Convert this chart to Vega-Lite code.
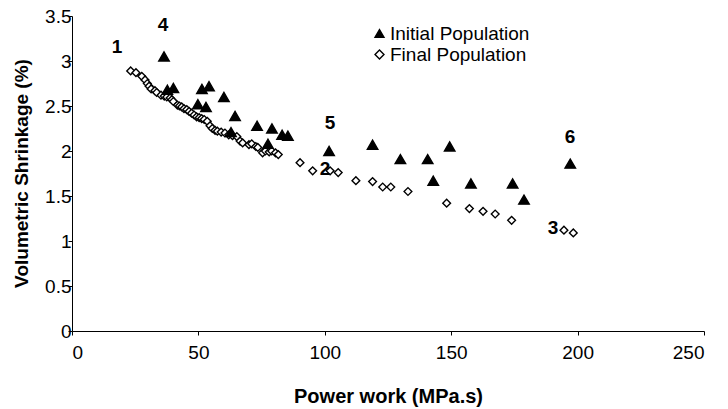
{
  "$schema": "https://vega.github.io/schema/vega-lite/v6.json",
  "width": 632,
  "height": 315,
  "autosize": {"type": "none"},
  "padding": {"left": 72, "top": 16, "right": 24, "bottom": 78},
  "background": "white",
  "config": {
    "view": {"stroke": null},
    "font": "Liberation Sans",
    "axis": {"grid": false, "domainColor": "black", "tickColor": "black", "domainWidth": 1, "tickWidth": 1, "tickSize": 4, "labelFont": "Liberation Sans", "labelFontSize": 19, "labelColor": "black", "titleFont": "Liberation Sans", "titleFontSize": 19, "titleFontWeight": "bold", "titleColor": "black"},
    "legend": {"title": null, "orient": "none", "legendX": 298, "legendY": 8, "labelFont": "Liberation Sans", "labelFontSize": 19, "labelColor": "black", "symbolStrokeWidth": 1.4, "symbolSize": 80, "labelOffset": 1, "rowPadding": 1, "padding": 0}
  },
  "datasets": {
    "pts": [
      {"work": 23.2, "shrink": 2.89, "population": "Final Population"},
      {"work": 25.3, "shrink": 2.87, "population": "Final Population"},
      {"work": 27.6, "shrink": 2.83, "population": "Final Population"},
      {"work": 28.9, "shrink": 2.79, "population": "Final Population"},
      {"work": 29.8, "shrink": 2.75, "population": "Final Population"},
      {"work": 30.5, "shrink": 2.72, "population": "Final Population"},
      {"work": 31.3, "shrink": 2.69, "population": "Final Population"},
      {"work": 32.8, "shrink": 2.67, "population": "Final Population"},
      {"work": 33.5, "shrink": 2.65, "population": "Final Population"},
      {"work": 35.2, "shrink": 2.62, "population": "Final Population"},
      {"work": 36.5, "shrink": 2.61, "population": "Final Population"},
      {"work": 37.5, "shrink": 2.6, "population": "Final Population"},
      {"work": 38.8, "shrink": 2.59, "population": "Final Population"},
      {"work": 39.5, "shrink": 2.57, "population": "Final Population"},
      {"work": 40.1, "shrink": 2.55, "population": "Final Population"},
      {"work": 41.7, "shrink": 2.51, "population": "Final Population"},
      {"work": 42.5, "shrink": 2.5, "population": "Final Population"},
      {"work": 43.4, "shrink": 2.49, "population": "Final Population"},
      {"work": 44.3, "shrink": 2.47, "population": "Final Population"},
      {"work": 45.4, "shrink": 2.46, "population": "Final Population"},
      {"work": 46.3, "shrink": 2.44, "population": "Final Population"},
      {"work": 47.3, "shrink": 2.42, "population": "Final Population"},
      {"work": 48.3, "shrink": 2.4, "population": "Final Population"},
      {"work": 49.3, "shrink": 2.38, "population": "Final Population"},
      {"work": 50.3, "shrink": 2.37, "population": "Final Population"},
      {"work": 51.3, "shrink": 2.36, "population": "Final Population"},
      {"work": 52.3, "shrink": 2.35, "population": "Final Population"},
      {"work": 53.5, "shrink": 2.33, "population": "Final Population"},
      {"work": 54.6, "shrink": 2.28, "population": "Final Population"},
      {"work": 55.5, "shrink": 2.25, "population": "Final Population"},
      {"work": 56.6, "shrink": 2.23, "population": "Final Population"},
      {"work": 57.5, "shrink": 2.22, "population": "Final Population"},
      {"work": 59.0, "shrink": 2.21, "population": "Final Population"},
      {"work": 60.5, "shrink": 2.2, "population": "Final Population"},
      {"work": 62.0, "shrink": 2.18, "population": "Final Population"},
      {"work": 63.5, "shrink": 2.17, "population": "Final Population"},
      {"work": 65.2, "shrink": 2.16, "population": "Final Population"},
      {"work": 66.5, "shrink": 2.11, "population": "Final Population"},
      {"work": 67.5, "shrink": 2.09, "population": "Final Population"},
      {"work": 70.0, "shrink": 2.07, "population": "Final Population"},
      {"work": 71.1, "shrink": 2.08, "population": "Final Population"},
      {"work": 72.7, "shrink": 2.05, "population": "Final Population"},
      {"work": 73.5, "shrink": 2.04, "population": "Final Population"},
      {"work": 75.4, "shrink": 1.98, "population": "Final Population"},
      {"work": 76.5, "shrink": 2.0, "population": "Final Population"},
      {"work": 78.0, "shrink": 1.99, "population": "Final Population"},
      {"work": 79.0, "shrink": 2.0, "population": "Final Population"},
      {"work": 80.5, "shrink": 1.98, "population": "Final Population"},
      {"work": 81.6, "shrink": 1.96, "population": "Final Population"},
      {"work": 90.2, "shrink": 1.87, "population": "Final Population"},
      {"work": 95.2, "shrink": 1.78, "population": "Final Population"},
      {"work": 102.1, "shrink": 1.78, "population": "Final Population"},
      {"work": 105.3, "shrink": 1.76, "population": "Final Population"},
      {"work": 112.3, "shrink": 1.67, "population": "Final Population"},
      {"work": 118.9, "shrink": 1.66, "population": "Final Population"},
      {"work": 122.9, "shrink": 1.6, "population": "Final Population"},
      {"work": 126.1, "shrink": 1.6, "population": "Final Population"},
      {"work": 132.9, "shrink": 1.55, "population": "Final Population"},
      {"work": 148.2, "shrink": 1.42, "population": "Final Population"},
      {"work": 157.2, "shrink": 1.36, "population": "Final Population"},
      {"work": 162.6, "shrink": 1.33, "population": "Final Population"},
      {"work": 167.4, "shrink": 1.3, "population": "Final Population"},
      {"work": 173.9, "shrink": 1.23, "population": "Final Population"},
      {"work": 194.6, "shrink": 1.12, "population": "Final Population"},
      {"work": 198.3, "shrink": 1.09, "population": "Final Population"},
      {"work": 36.4, "shrink": 3.05, "population": "Initial Population"},
      {"work": 37.7, "shrink": 2.68, "population": "Initial Population"},
      {"work": 40.1, "shrink": 2.7, "population": "Initial Population"},
      {"work": 51.4, "shrink": 2.69, "population": "Initial Population"},
      {"work": 54.2, "shrink": 2.72, "population": "Initial Population"},
      {"work": 49.8, "shrink": 2.52, "population": "Initial Population"},
      {"work": 53.0, "shrink": 2.49, "population": "Initial Population"},
      {"work": 60.1, "shrink": 2.6, "population": "Initial Population"},
      {"work": 64.5, "shrink": 2.39, "population": "Initial Population"},
      {"work": 73.2, "shrink": 2.28, "population": "Initial Population"},
      {"work": 79.1, "shrink": 2.25, "population": "Initial Population"},
      {"work": 83.1, "shrink": 2.18, "population": "Initial Population"},
      {"work": 85.4, "shrink": 2.17, "population": "Initial Population"},
      {"work": 62.9, "shrink": 2.21, "population": "Initial Population"},
      {"work": 77.5, "shrink": 2.08, "population": "Initial Population"},
      {"work": 101.7, "shrink": 2.0, "population": "Initial Population"},
      {"work": 118.9, "shrink": 2.07, "population": "Initial Population"},
      {"work": 129.9, "shrink": 1.91, "population": "Initial Population"},
      {"work": 140.7, "shrink": 1.91, "population": "Initial Population"},
      {"work": 149.4, "shrink": 2.05, "population": "Initial Population"},
      {"work": 142.9, "shrink": 1.67, "population": "Initial Population"},
      {"work": 157.8, "shrink": 1.64, "population": "Initial Population"},
      {"work": 174.3, "shrink": 1.64, "population": "Initial Population"},
      {"work": 178.8, "shrink": 1.46, "population": "Initial Population"},
      {"work": 197.1, "shrink": 1.86, "population": "Initial Population"}
    ],
    "labels": [
      {"work": 17.8, "shrink": 3.16, "label": "1"},
      {"work": 36.0, "shrink": 3.4, "label": "4"},
      {"work": 102.1, "shrink": 2.31, "label": "5"},
      {"work": 100.1, "shrink": 1.8, "label": "2"},
      {"work": 197.0, "shrink": 2.16, "label": "6"},
      {"work": 190.3, "shrink": 1.15, "label": "3"}
    ]
  },
  "layer": [
    {
      "data": {"name": "pts"},
      "mark": {"type": "point", "filled": true, "strokeWidth": 1.4, "opacity": 1},
      "encoding": {
        "x": {"field": "work", "type": "quantitative", "scale": {"domain": [0, 250], "nice": false}, "axis": {"values": [0, 50, 100, 150, 200, 250], "title": "Power work (MPa.s)", "titleFontSize": 20, "labelPadding": 8, "titleX": 316, "titleY": 65, "titleBaseline": "middle", "titleAlign": "center"}},
        "y": {"field": "shrink", "type": "quantitative", "scale": {"domain": [0, 3.5], "nice": false}, "axis": {"values": [0, 0.5, 1, 1.5, 2, 2.5, 3, 3.5], "format": "~g", "title": "Volumetric Shrinkage (%)", "labelPadding": -3, "titleX": -51, "titleY": 157, "titleAngle": 270, "titleBaseline": "middle", "titleAlign": "center"}},
        "shape": {"field": "population", "type": "nominal", "scale": {"domain": ["Initial Population", "Final Population"], "range": ["triangle-up", "diamond"]}, "legend": {"title": null}},
        "fill": {"field": "population", "type": "nominal", "scale": {"domain": ["Initial Population", "Final Population"], "range": ["black", "white"]}, "legend": {"title": null}},
        "stroke": {"field": "population", "type": "nominal", "scale": {"domain": ["Initial Population", "Final Population"], "range": ["black", "black"]}, "legend": {"title": null}},
        "size": {"condition": {"test": "datum.population === 'Initial Population'", "value": 110}, "value": 60},
        "order": {"value": 0}
      }
    },
    {
      "data": {"name": "labels"},
      "mark": {"type": "text", "font": "Liberation Sans", "fontSize": 19, "fontWeight": "bold", "color": "black", "align": "center", "baseline": "middle"},
      "encoding": {
        "x": {"field": "work", "type": "quantitative"},
        "y": {"field": "shrink", "type": "quantitative"},
        "text": {"field": "label", "type": "nominal"}
      }
    }
  ]
}
